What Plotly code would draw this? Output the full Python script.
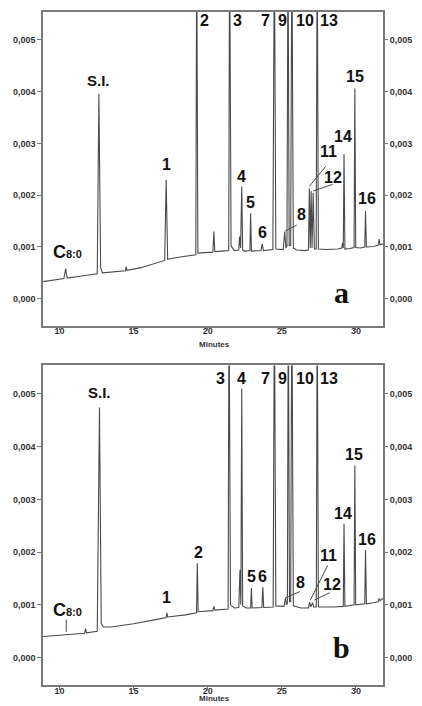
import plotly.graph_objects as go

# ---------------- data ----------------
# panel a : retention time (min) and detector signal
time_a = [8.9, 9.5, 10.3, 10.42, 10.52, 11.5, 12.55, 12.66, 12.78, 12.9, 13.5,
          14.45, 14.5, 14.56, 15.5, 16.5, 17.1, 17.2, 17.3, 17.8, 18.5, 18.9,
          19.2, 19.26, 19.34, 19.8, 20.35, 20.42, 20.48, 21.0, 21.42, 21.48,
          21.58, 21.8, 22.1, 22.15, 22.22, 22.3, 22.36, 22.5, 22.85, 22.9,
          22.95, 23.6, 23.68, 23.76, 24.4, 24.5, 24.6, 25.1, 25.2, 25.28,
          25.35, 25.42, 25.5, 25.6, 25.68, 25.78, 26.0, 26.5, 26.8, 26.86,
          26.92, 26.98, 27.04, 27.12, 27.2, 27.32, 27.39, 27.47, 28.0, 28.8,
          29.05, 29.1, 29.15, 29.2, 29.26, 29.6, 29.88, 29.93, 29.99, 30.3,
          30.6, 30.65, 30.71, 31.2, 31.5, 31.57, 31.62, 31.83]
signal_a = [0.00033, 0.00035, 0.00039, 0.00058, 0.00040, 0.00044, 0.00048,
            0.00396, 0.00060, 0.00050, 0.00051, 0.00054, 0.00062, 0.00055,
            0.00060, 0.00068, 0.00074, 0.00230, 0.00076, 0.00079, 0.00082,
            0.00083, 0.00085, 0.0070, 0.00088, 0.00089, 0.00090, 0.00130,
            0.00091, 0.00092, 0.00093, 0.0070, 0.00102, 0.00093, 0.00094,
            0.00120, 0.00098, 0.00217, 0.00094, 0.00092, 0.00093, 0.00165,
            0.00092, 0.00093, 0.00106, 0.00093, 0.00095, 0.0070, 0.00096,
            0.00095, 0.00130, 0.00098, 0.00101, 0.0070, 0.00103, 0.00103,
            0.0070, 0.00098, 0.00094, 0.00093, 0.00094, 0.00213, 0.00098,
            0.00208, 0.00098, 0.00204, 0.00096, 0.00096, 0.0070, 0.00096,
            0.00095, 0.00096, 0.00098, 0.00108, 0.00098, 0.00279, 0.00096,
            0.00097, 0.00099, 0.00406, 0.00099, 0.00098, 0.00100, 0.00169,
            0.00100, 0.00101, 0.00103, 0.00115, 0.00104, 0.00106]

# panel b
time_b = [8.9, 10.0, 11.0, 11.7, 11.76, 11.82, 12.55, 12.7, 12.82, 12.95, 13.5,
          15.0, 16.5, 17.2, 17.25, 17.3, 18.5, 19.25, 19.3, 19.36, 20.35,
          20.42, 20.48, 21.38, 21.44, 21.54, 21.8, 22.1, 22.18, 22.24, 22.3,
          22.36, 22.6, 22.9, 22.95, 23.0, 23.66, 23.72, 23.78, 24.42, 24.5,
          24.6, 25.15, 25.25, 25.32, 25.38, 25.44, 25.52, 25.6, 25.68, 25.78,
          26.3, 26.8, 26.88, 26.95, 27.08, 27.15, 27.33, 27.39, 27.47, 28.5,
          29.15, 29.2, 29.26, 29.88, 29.93, 29.99, 30.6, 30.65, 30.71, 31.2,
          31.5, 31.57, 31.63, 31.83]
signal_b = [0.00040, 0.00042, 0.00044, 0.00046, 0.00055, 0.00047, 0.00050,
            0.00474, 0.00065, 0.00058, 0.00058, 0.00064, 0.00072, 0.00076,
            0.00085, 0.00077, 0.00081, 0.00085, 0.00179, 0.00087, 0.00089,
            0.00097, 0.00090, 0.00092, 0.0070, 0.00100, 0.00094, 0.00095,
            0.00166, 0.00100, 0.0051, 0.00098, 0.00094, 0.00094, 0.00132,
            0.00094, 0.00095, 0.00134, 0.00095, 0.00096, 0.0070, 0.00098,
            0.00097, 0.00113, 0.00100, 0.00103, 0.0070, 0.00106, 0.00106,
            0.0070, 0.00098, 0.00094, 0.00094, 0.00105, 0.00096, 0.00104,
            0.00096, 0.00096, 0.0070, 0.00096, 0.00096, 0.00097, 0.00254,
            0.00097, 0.00100, 0.00364, 0.00100, 0.00102, 0.00204, 0.00102,
            0.00104, 0.00106, 0.00112, 0.00108, 0.00112]

x_ticks = [10, 15, 20, 25, 30]
y_ticks = [0.000, 0.001, 0.002, 0.003, 0.004, 0.005]
y_tick_labels = ["0,000", "0,001", "0,002", "0,003", "0,004", "0,005"]

# peak labels: (text, time, signal)
labels_a = [("S.I.", 12.61, 0.00421), ("1", 17.19, 0.00260), ("2", 19.80, 0.00538),
            ("3", 22.03, 0.00538), ("7", 23.92, 0.00538), ("9", 25.03, 0.00538),
            ("10", 26.54, 0.00538), ("13", 28.17, 0.00538), ("4", 22.29, 0.00237),
            ("5", 22.88, 0.00185), ("6", 23.73, 0.00127), ("8", 26.34, 0.00163),
            ("11", 28.17, 0.00285), ("12", 28.43, 0.00235), ("14", 29.15, 0.00313),
            ("15", 29.93, 0.00429), ("16", 30.78, 0.00194)]
labels_b = [("S.I.", 12.68, 0.00502), ("1", 17.19, 0.00113), ("2", 19.35, 0.00200),
            ("3", 20.85, 0.00530), ("4", 22.29, 0.00530), ("7", 23.92, 0.00530),
            ("9", 25.03, 0.00530), ("10", 26.54, 0.00530), ("13", 28.17, 0.00530),
            ("5", 22.94, 0.00153), ("6", 23.73, 0.00153), ("8", 26.27, 0.00143),
            ("11", 28.17, 0.00194), ("12", 28.37, 0.00138), ("14", 29.15, 0.00274),
            ("15", 29.87, 0.00385), ("16", 30.78, 0.00223)]
# leader lines: (t0, v0, t1, v1)
leaders_a = [(25.23, 0.00131, 26.01, 0.00142), (26.86, 0.00217, 27.97, 0.00256),
             (27.12, 0.00208, 28.43, 0.00221)]
leaders_b = [(10.46, 0.00072, 10.46, 0.00049), (25.23, 0.00113, 26.21, 0.00125),
             (26.93, 0.00109, 28.10, 0.00175), (27.19, 0.00109, 28.24, 0.00123)]

# ---------------- figure ----------------
LINE = "#4a4a4a"
FRAME = "#7a7a7a"
TXT = "#111111"
SANS = "Liberation Sans, Arial, sans-serif"

fig = go.Figure()
fig.add_trace(go.Scatter(x=time_a, y=signal_a, mode="lines", xaxis="x", yaxis="y",
                         line=dict(color=LINE, width=1.1), hoverinfo="skip"))
fig.add_trace(go.Scatter(x=time_b, y=signal_b, mode="lines", xaxis="x2", yaxis="y2",
                         line=dict(color=LINE, width=1.1), hoverinfo="skip"))
fig.add_trace(go.Scatter(x=time_a, y=signal_a, mode="lines", xaxis="x", yaxis="y3",
                         opacity=0, hoverinfo="skip"))
fig.add_trace(go.Scatter(x=time_b, y=signal_b, mode="lines", xaxis="x2", yaxis="y4",
                         opacity=0, hoverinfo="skip"))

xr = [8.89, 31.83]
yr = [-0.00052, 0.00554]
tickfont = dict(family=SANS, size=9, color="#333")

xcommon = dict(range=xr, tickvals=x_ticks, ticktext=[f"<b>{v}</b>" for v in x_ticks],
               ticks="outside", ticklen=3, tickcolor=FRAME, showgrid=False,
               zeroline=False, showline=True, linecolor=FRAME, linewidth=1.5,
               mirror=True, tickfont=tickfont, ticklabelstandoff=-7)
ycommon = dict(range=yr, tickvals=y_ticks, ticktext=[f"<b>{t}</b>" for t in y_tick_labels],
               ticks="outside", ticklen=4, tickcolor=FRAME, showgrid=False,
               zeroline=False, showline=True, linecolor=FRAME, linewidth=1.5,
               mirror=True, tickfont=tickfont)
yright = dict(range=yr, tickvals=y_ticks, ticktext=[f"<b>{t}</b>" for t in y_tick_labels],
              ticks="outside", ticklen=4, tickcolor=FRAME, showgrid=False,
              zeroline=False, showline=False, side="right", tickfont=tickfont)

fig.update_layout(
    width=422, height=706, showlegend=False,
    margin=dict(l=43, r=28, t=10, b=20),
    paper_bgcolor="white", plot_bgcolor="white",
    xaxis=dict(anchor="y", domain=[0, 1], **xcommon),
    xaxis2=dict(anchor="y2", domain=[0, 1], **xcommon),
    yaxis=dict(anchor="x", domain=[0.534, 1], **ycommon),
    yaxis2=dict(anchor="x2", domain=[0, 0.4749], **ycommon),
    yaxis3=dict(anchor="x", overlaying="y", **yright),
    yaxis4=dict(anchor="x2", overlaying="y2", **yright),
)

ann = []
shapes = []
for labels, leaders, xref, yref in [(labels_a, leaders_a, "x", "y"),
                                    (labels_b, leaders_b, "x2", "y2")]:
    for text, t, v in labels:
        ann.append(dict(x=t, y=v, xref=xref, yref=yref, text=f"<b>{text}</b>",
                        showarrow=False, xanchor="center", yanchor="middle",
                        font=dict(family=SANS, size=15 if text == "S.I." else 16, color=TXT)))
    ann.append(dict(x=10.52, y=0.00091, xref=xref, yref=yref,
                    text="<b>C<span style='font-size:11px'>8:0</span></b>",
                    showarrow=False, xanchor="center", yanchor="middle",
                    font=dict(family=SANS, size=18, color=TXT)))
    for t0, v0, t1, v1 in leaders:
        shapes.append(dict(type="line", xref=xref, yref=yref, x0=t0, y0=v0, x1=t1, y1=v1,
                           line=dict(color=LINE, width=1)))

ann.append(dict(x=29.02, y=0.00012, xref="x", yref="y", text="<b>a</b>", showarrow=False,
                font=dict(family="Liberation Serif, Times New Roman, serif", size=30, color=TXT)))
ann.append(dict(x=29.02, y=0.00019, xref="x2", yref="y2", text="<b>b</b>", showarrow=False,
                font=dict(family="Liberation Serif, Times New Roman, serif", size=30, color=TXT)))
for py in [0.506, -0.0207]:
    ann.append(dict(x=20.46, y=py, xref="x", yref="paper", text="<b>Minutes</b>",
                    showarrow=False, xanchor="center", yanchor="middle",
                    font=dict(family=SANS, size=8, color="#333")))

fig.update_layout(annotations=ann, shapes=shapes)
fig.write_html("out.html", config={"displayModeBar": False},
               post_script="document.body.style.margin='0';document.body.style.overflow='hidden';")
